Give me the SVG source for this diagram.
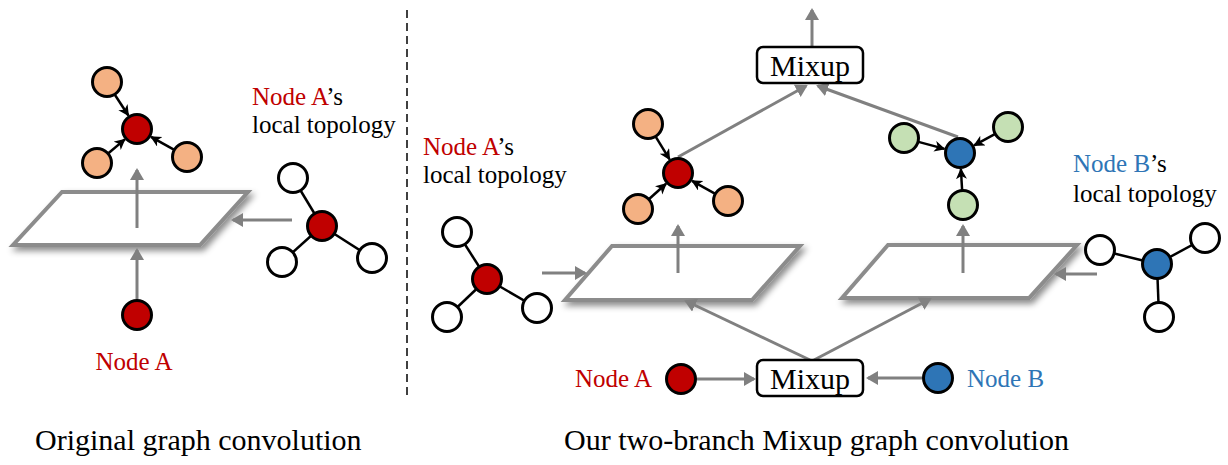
<svg xmlns="http://www.w3.org/2000/svg" width="1228" height="465" viewBox="0 0 1228 465">
<style>
.lbl{font-size:25px}
.cap{font-size:30px}
.red{fill:#C00000}
.blue{fill:#2E75B6}
.n{stroke:#000;stroke-width:3}
.or{fill:#F4B183}
.gr{fill:#C5E0B4}
.rd{fill:#C00000}
.bl{fill:#2E75B6}
.wh{fill:#fff}
.ga{stroke:#808080;stroke-width:3;fill:none;marker-end:url(#ga)}
.ba{stroke:#000;stroke-width:2.5;fill:none;marker-end:url(#ba)}
.bk{stroke:#000;stroke-width:2.5}
.plane{fill:#fff;stroke:#8c8c8c;stroke-width:4;filter:url(#sh)}
.box{fill:#fff;stroke:#000;stroke-width:2.5}
</style>
<defs>
<marker id="ga" markerUnits="userSpaceOnUse" markerWidth="15" markerHeight="15" refX="10" refY="7" orient="auto"><path d="M0,0 L12,7 L0,14 z" fill="#808080"/></marker>
<marker id="ba" markerUnits="userSpaceOnUse" markerWidth="13" markerHeight="13" refX="10" refY="5.5" orient="auto"><path d="M0,0 L11,5.5 L0,11 L3,5.5 z" fill="#000"/></marker>
<filter id="sh" x="-10%" y="-20%" width="130%" height="150%"><feDropShadow dx="3" dy="4" stdDeviation="3" flood-color="#000" flood-opacity="0.45"/></filter>
</defs>

<line x1="407" y1="10" x2="407" y2="398" stroke="#404040" stroke-width="2" stroke-dasharray="8 5"/>

<g id="planes">
<polygon class="plane" points="62,192 248,192 200,245 13,245"/>
<polygon class="plane" points="612,246 800,246 752,300 565,300"/>
<polygon class="plane" points="888,245 1077,245 1029,298 842,298"/>
</g>

<g id="connectors">
<line class="ga" x1="137" y1="228" x2="137" y2="170"/>
<line class="ga" x1="137" y1="299" x2="137" y2="250"/>
<line class="ga" x1="292" y1="220" x2="233" y2="220"/>
<line class="ga" x1="542" y1="273" x2="585" y2="273"/>
<line class="ga" x1="678" y1="273" x2="678" y2="226"/>
<line class="ga" x1="810" y1="360" x2="686" y2="301"/>
<line class="ga" x1="814" y1="360" x2="930" y2="299"/>
<line class="ga" x1="697" y1="379" x2="754" y2="379"/>
<line class="ga" x1="922" y1="378" x2="868" y2="378"/>
<line class="ga" x1="1097" y1="274" x2="1056" y2="274"/>
<line class="ga" x1="963" y1="273" x2="963" y2="226"/>
<line class="ga" x1="678" y1="157" x2="806" y2="86"/>
<line class="ga" x1="958" y1="137" x2="818" y2="86"/>
<line class="ga" x1="812" y1="47" x2="812" y2="10"/>
<line class="ba" x1="115" y1="95" x2="128.4" y2="115.5"/>
<line class="ba" x1="108.4" y1="153.3" x2="124.8" y2="139.4"/>
<line class="ba" x1="173.9" y1="149.7" x2="151" y2="136.8"/>
<line class="ba" x1="655.8" y1="136.8" x2="669.6" y2="159.4"/>
<line class="ba" x1="649.1" y1="199" x2="666.1" y2="183.7"/>
<line class="ba" x1="714.9" y1="193.7" x2="692" y2="180.8"/>
<line class="ba" x1="918.5" y1="141.9" x2="944.5" y2="148.9"/>
<line class="ba" x1="994.8" y1="134.1" x2="974.1" y2="145.4"/>
<line class="ba" x1="962.1" y1="190" x2="960.9" y2="169"/>
<line class="bk" x1="322" y1="226" x2="293" y2="178"/>
<line class="bk" x1="322" y1="226" x2="282" y2="262"/>
<line class="bk" x1="322" y1="226" x2="372" y2="258"/>
<line class="bk" x1="487" y1="279" x2="457" y2="232"/>
<line class="bk" x1="487" y1="279" x2="447" y2="317"/>
<line class="bk" x1="487" y1="279" x2="537" y2="308"/>
<line class="bk" x1="1157" y1="264" x2="1100" y2="250"/>
<line class="bk" x1="1157" y1="264" x2="1205" y2="238"/>
<line class="bk" x1="1157" y1="264" x2="1159" y2="317"/>
</g>

<g id="left-output-graph">
<circle class="n or" cx="107" cy="82" r="14.5"/>
<circle class="n or" cx="97" cy="163" r="14.5"/>
<circle class="n or" cx="187" cy="157" r="14.5"/>
<circle class="n rd" cx="137" cy="129" r="14.5"/>
</g>
<g id="left-topology">
<circle class="n wh" cx="293" cy="178" r="14.5"/>
<circle class="n wh" cx="282" cy="262" r="14.5"/>
<circle class="n wh" cx="372" cy="258" r="14.5"/>
<circle class="n rd" cx="322" cy="226" r="14.5"/>
</g>

<g font-family="Liberation Serif, DejaVu Serif, serif" fill="#000">
<g id="left-nodeA">
<circle class="n rd" cx="137" cy="315" r="14.5"/>
<text class="lbl red" x="134" y="370" text-anchor="middle">Node A</text>
</g>
<g id="left-topology-label">
<text class="lbl" x="252" y="105"><tspan class="red">Node A</tspan>’s</text>
<text class="lbl" x="252" y="133">local topology</text>
</g>
<g id="mid-topology-label">
<text class="lbl" x="423" y="155"><tspan class="red">Node A</tspan>’s</text>
<text class="lbl" x="423" y="183">local topology</text>
</g>
<g id="right-topology-label">
<text class="lbl" x="1073" y="172"><tspan class="blue">Node B</tspan>’s</text>
<text class="lbl" x="1073" y="202">local topology</text>
</g>
<g id="mixup-top">
<rect class="box" x="757" y="47" width="106" height="36" rx="6"/>
<text class="cap" x="810" y="76" text-anchor="middle">Mixup</text>
</g>
<g id="mixup-bottom">
<rect class="box" x="757" y="360" width="106" height="36" rx="6"/>
<text class="cap" x="810" y="389" text-anchor="middle">Mixup</text>
</g>
<g id="mid-nodeA">
<circle class="n rd" cx="681" cy="379" r="14.5"/>
<text class="lbl red" x="575" y="387">Node A</text>
</g>
<g id="mid-nodeB">
<circle class="n bl" cx="938" cy="378" r="14.5"/>
<text class="lbl blue" x="967" y="387">Node B</text>
</g>
<g id="captions">
<text class="cap" x="35" y="450">Original graph convolution</text>
<text class="cap" x="564" y="450">Our two-branch Mixup graph convolution</text>
</g>
</g>

<g id="mid-output-graph">
<circle class="n or" cx="648" cy="124" r="14.5"/>
<circle class="n or" cx="638" cy="209" r="14.5"/>
<circle class="n or" cx="728" cy="201" r="14.5"/>
<circle class="n rd" cx="678" cy="173" r="14.5"/>
</g>
<g id="mid-topology">
<circle class="n wh" cx="457" cy="232" r="14.5"/>
<circle class="n wh" cx="447" cy="317" r="14.5"/>
<circle class="n wh" cx="537" cy="308" r="14.5"/>
<circle class="n rd" cx="487" cy="279" r="14.5"/>
</g>
<g id="right-output-graph">
<circle class="n gr" cx="904" cy="138" r="14.5"/>
<circle class="n gr" cx="1008" cy="127" r="14.5"/>
<circle class="n gr" cx="963" cy="205" r="14.5"/>
<circle class="n bl" cx="960" cy="153" r="14.5"/>
</g>
<g id="right-topology">
<circle class="n wh" cx="1100" cy="250" r="14.5"/>
<circle class="n wh" cx="1205" cy="238" r="14.5"/>
<circle class="n wh" cx="1159" cy="317" r="14.5"/>
<circle class="n bl" cx="1157" cy="264" r="14.5"/>
</g>
</svg>
